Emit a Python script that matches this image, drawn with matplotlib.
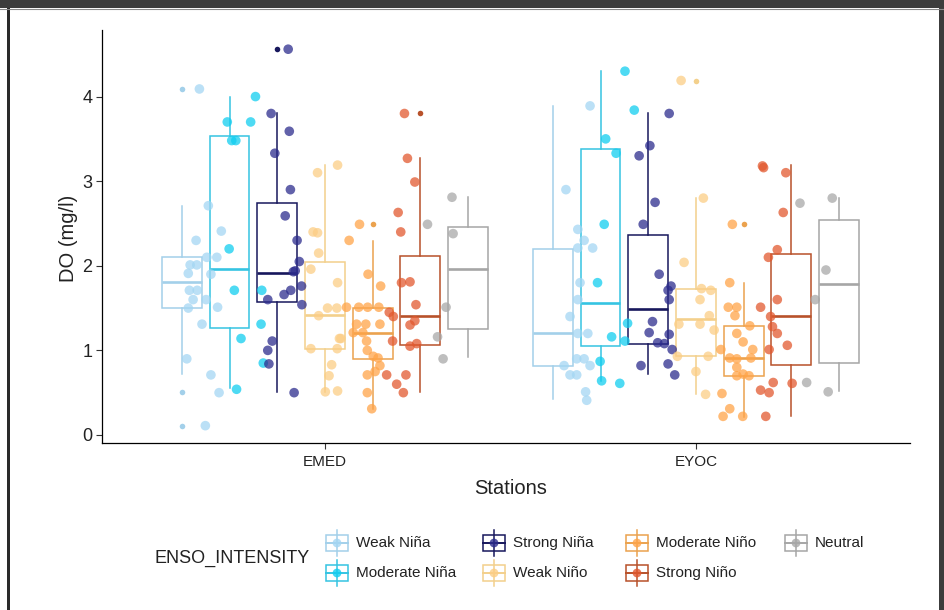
import numpy as np
import matplotlib
matplotlib.use("Agg")
import matplotlib.pyplot as plt
from matplotlib.patches import Rectangle

plt.rcParams['font.family'] = ['Liberation Sans', 'DejaVu Sans']

stations = ["EMED", "EYOC"]
groups = ["Weak Niña", "Moderate Niña", "Strong Niña", "Weak Niño",
          "Moderate Niño", "Strong Niño", "Neutral"]

# box summaries per group: lower whisker, q1, median, q3, upper whisker
emed_box = [[0.72, 1.50, 1.81, 2.10, 2.71],
            [0.55, 1.27, 1.96, 3.53, 4.00],
            [0.51, 1.57, 1.92, 2.74, 3.80],
            [0.51, 1.02, 1.42, 2.05, 3.19],
            [0.31, 0.90, 1.21, 1.50, 2.29],
            [0.51, 1.06, 1.41, 2.12, 3.27],
            [0.92, 1.25, 1.96, 2.46, 2.81]]
eyoc_box = [[0.42, 0.81, 1.21, 2.20, 3.89],
            [0.64, 1.05, 1.56, 3.38, 4.30],
            [0.72, 1.08, 1.49, 2.36, 3.80],
            [0.49, 0.93, 1.37, 1.72, 2.80],
            [0.21, 0.70, 0.91, 1.29, 1.80],
            [0.22, 0.83, 1.41, 2.14, 3.19],
            [0.52, 0.85, 1.79, 2.54, 2.80]]
emed_out = [[4.09, 0.51, 0.11], [], [4.56], [], [2.49], [3.80], []]
eyoc_out = [[], [], [], [4.19], [2.49], [], []]

# observed DO values (mg/l)
emed_do = [
    [4.09, 2.71, 2.41, 2.30, 2.10, 2.10, 2.01, 2.01, 1.91, 1.90, 1.71, 1.71,
     1.60, 1.60, 1.50, 1.51, 1.31, 0.90, 0.71, 0.50, 0.11],
    [4.00, 3.70, 3.70, 3.48, 3.48, 2.20, 1.71, 1.71, 1.31, 1.14, 0.85, 0.54],
    [4.56, 3.80, 3.59, 3.33, 2.90, 2.59, 2.30, 2.05, 1.93, 1.94, 1.76, 1.71,
     1.66, 1.60, 1.54, 1.11, 1.00, 0.84, 0.50],
    [3.19, 3.10, 2.40, 2.39, 2.15, 1.96, 1.80, 1.50, 1.50, 1.41, 1.14, 1.14,
     1.02, 1.02, 0.83, 0.70, 0.51, 0.52],
    [2.49, 2.30, 1.90, 1.76, 1.51, 1.51, 1.51, 1.51, 1.31, 1.31, 1.31, 1.21,
     1.21, 1.11, 1.00, 0.93, 0.91, 0.82, 0.75, 0.71, 0.50, 0.31],
    [3.80, 3.27, 2.99, 2.63, 2.40, 1.80, 1.81, 1.54, 1.45, 1.40, 1.35, 1.30,
     1.11, 1.05, 1.08, 0.71, 0.71, 0.60, 0.50],
    [2.81, 2.49, 2.38, 1.51, 1.16, 0.90]]
eyoc_do = [
    [3.89, 2.90, 2.43, 2.30, 2.21, 2.21, 1.80, 1.60, 1.40, 1.20, 1.20, 0.90,
     0.90, 0.82, 0.82, 0.71, 0.71, 0.51, 0.41],
    [4.30, 3.84, 3.50, 3.33, 2.49, 1.80, 1.32, 1.16, 1.11, 0.87, 0.64, 0.61],
    [3.80, 3.42, 3.30, 2.75, 2.49, 1.90, 1.76, 1.71, 1.60, 1.34, 1.21, 1.19,
     1.09, 1.08, 1.01, 0.82, 0.84, 0.71],
    [4.19, 2.80, 2.04, 1.73, 1.71, 1.60, 1.41, 1.31, 1.31, 1.24, 0.93, 0.93,
     0.75, 0.48],
    [2.49, 1.80, 1.51, 1.51, 1.41, 1.29, 1.20, 1.10, 1.01, 1.01, 0.91, 0.90,
     0.91, 0.80, 0.72, 0.70, 0.70, 0.49, 0.31, 0.22, 0.22],
    [3.18, 3.16, 3.10, 2.63, 2.19, 2.10, 1.60, 1.51, 1.40, 1.28, 1.20, 1.06,
     1.01, 0.62, 0.61, 0.53, 0.50, 0.22],
    [2.80, 2.74, 1.95, 1.60, 0.62, 0.51]]

# horizontal jitter of each observation (x-axis units)
emed_jit = [
    [-0.017, 0.007, 0.042, -0.026, 0.030, 0.003, -0.042, -0.024, -0.047, 0.014,
     -0.044, -0.023, -0.034, 0.001, -0.047, 0.032, -0.010, -0.051, 0.014, 0.036,
     -0.001],
    [0.027, -0.049, 0.014, -0.037, -0.026, -0.044, -0.030, 0.044, 0.042, -0.012,
     0.048, -0.024],
    [0.008, -0.038, 0.011, -0.028, 0.014, 0.000, 0.032, 0.038, 0.022, 0.027,
     0.044, 0.015, -0.003, -0.047, 0.045, -0.035, -0.047, -0.044, 0.024],
    [0.034, -0.020, -0.032, -0.020, -0.017, -0.038, 0.034, 0.007, 0.032, -0.017,
     0.039, 0.043, -0.038, 0.033, 0.018, 0.011, 0.001, 0.034],
    [-0.014, -0.042, 0.009, 0.043, -0.049, -0.016, 0.008, 0.038, -0.022, 0.003,
     0.041, -0.031, -0.005, 0.005, 0.007, 0.023, 0.036, 0.041, 0.028, 0.007,
     0.007, 0.019],
    [0.000, 0.008, 0.028, -0.017, -0.010, -0.008, 0.015, 0.031, -0.041, -0.030,
     0.028, 0.015, -0.032, 0.015, 0.033, -0.048, 0.004, -0.021, -0.003],
    [0.021, -0.045, 0.024, 0.005, -0.018, -0.003]]
eyoc_jit = [
    [0.036, -0.029, 0.003, 0.020, 0.003, 0.043, 0.009, 0.003, -0.018, 0.003,
     0.030, 0.000, 0.020, -0.034, 0.036, -0.018, 0.000, 0.024, 0.027],
    [0.023, 0.048, -0.029, -0.001, -0.033, -0.051, 0.030, -0.013, 0.023, -0.044,
     -0.040, 0.009],
    [0.035, -0.017, -0.046, -0.003, -0.035, 0.008, 0.040, 0.032, 0.035, -0.010,
     -0.019, 0.035, 0.004, 0.022, 0.043, -0.041, 0.032, 0.050],
    [-0.040, 0.020, -0.032, 0.015, 0.040, 0.011, 0.036, -0.046, 0.011, 0.049,
     -0.050, 0.033, 0.000, 0.026],
    [-0.009, -0.016, -0.020, 0.003, -0.002, 0.038, 0.003, 0.020, -0.040, 0.046,
     -0.016, 0.003, 0.041, 0.003, 0.020, 0.036, 0.003, -0.037, -0.016, -0.034,
     0.019],
    [-0.035, -0.032, 0.028, 0.021, 0.005, -0.019, 0.005, -0.040, -0.013, -0.008,
     0.005, 0.032, -0.017, -0.006, 0.045, -0.040, -0.017, -0.026],
    [0.046, -0.041, 0.029, 0.000, -0.023, 0.035]]

box_colors = ["#a3d0ea", "#35c4e2", "#17175c", "#f3d08c",
              "#eba24e", "#b8512a", "#a6a6a6"]
pt_colors = ["#a3d6f3", "#10cdf0", "#2b2b8c", "#fccd84",
             "#ffa448", "#e2582e", "#a8a8a8"]

n = len(groups)
box_dodge = 0.9 / n
pt_dodge = 0.75 / n
box_w = 0.75 / n

fig = plt.figure(figsize=(9.45, 6.10), dpi=100)
ax = fig.add_axes([102 / 945, 1 - 443 / 610, 808 / 945, 413 / 610])

station_data = [(emed_box, emed_out, emed_do, emed_jit),
                (eyoc_box, eyoc_out, eyoc_do, eyoc_jit)]
for s, (boxes, outs, vals, jits) in enumerate(station_data):
    for g in range(n):
        c = box_colors[g]
        lo, q1, med, q3, hi = boxes[g]
        stats = [dict(whislo=lo, q1=q1, med=med, q3=q3, whishi=hi,
                      fliers=outs[g])]
        ax.bxp(stats, positions=[s + 1 + (g - 3) * box_dodge], widths=box_w,
               showcaps=False, patch_artist=True, manage_ticks=False,
               boxprops=dict(facecolor="white", edgecolor=c, linewidth=1.1),
               whiskerprops=dict(color=c, linewidth=1.1),
               medianprops=dict(color=c, linewidth=1.9),
               flierprops=dict(marker="o", markersize=4, markerfacecolor=c,
                               markeredgecolor="none"))
        xs = s + 1 + (g - 3) * pt_dodge + np.array(jits[g])
        ax.scatter(xs, vals[g], s=48, color=pt_colors[g], alpha=0.74,
                   edgecolors="none", zorder=3)

ax.set_xlim(0.399, 2.577)
ax.set_ylim(-0.095, 4.787)
ax.set_xticks([1, 2])
ax.set_xticklabels(stations)
ax.set_yticks([0, 1, 2, 3, 4])
for side in ["top", "right"]:
    ax.spines[side].set_visible(False)
for side in ["left", "bottom"]:
    ax.spines[side].set_linewidth(0.9)
ax.tick_params(axis="y", labelsize=13, length=4, width=0.8, pad=3,
               colors="#333333", labelcolor="#222222")
ax.tick_params(axis="x", labelsize=11, length=4, width=0.8, pad=5,
               colors="#333333", labelcolor="#222222")

ax.set_xlabel("Stations", fontsize=14.5, color="#222222", va="center")
ax.xaxis.set_label_coords(0.506, -0.111)
ax.set_ylabel("DO (mg/l)", fontsize=14.5, color="#222222", va="center")
ax.yaxis.set_label_coords(-0.042, 0.496)

# overlay in pixel units: window frame and legend
ov = fig.add_axes([0, 0, 1, 1], facecolor="none")
ov.set_xlim(0, 945)
ov.set_ylim(610, 0)
ov.axis("off")
ov.add_patch(Rectangle((0, 0), 945, 8, color="#3c3c3c", lw=0))
ov.plot([0, 945], [8.5, 8.5], color="#8a8a8a", lw=0.8)
ov.add_patch(Rectangle((7, 8), 3, 602, color="#2a2a2a", lw=0))
ov.add_patch(Rectangle((939, 8), 6, 602, color="#3c3c3c", lw=0))

ov.text(154, 558, "ENSO_INTENSITY", fontsize=13, color="#222222",
        ha="left", va="center")
key_x = [337, 337, 494, 494, 637, 637, 796]
key_y = [543, 573, 543, 573, 543, 573, 543]
for g in range(n):
    x, y = key_x[g], key_y[g]
    c = box_colors[g]
    ov.plot([x, x], [y - 13, y + 13], color=c, lw=1.1)
    ov.add_patch(Rectangle((x - 11, y - 8), 22, 16, facecolor="white",
                           edgecolor=c, lw=1.1))
    ov.plot([x - 11, x + 11], [y, y], color=c, lw=1.4)
    ov.scatter([x], [y], s=40, color=pt_colors[g], alpha=0.8,
               edgecolors="none", zorder=3)
    ov.text(x + 19, y, groups[g], fontsize=11, color="#222222",
            ha="left", va="center")

fig.savefig("out.png", dpi=100)
